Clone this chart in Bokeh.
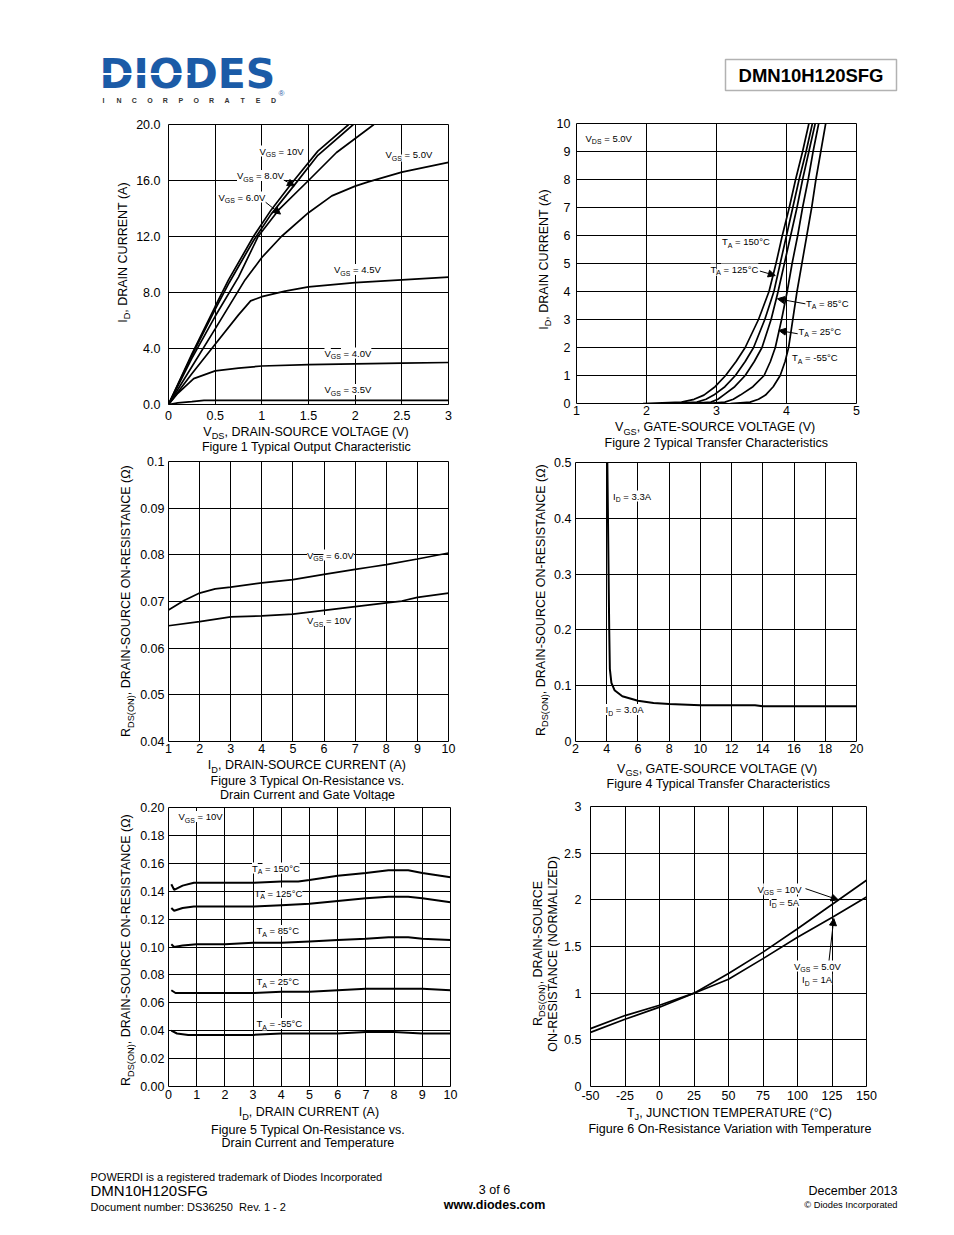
import numpy as np
from bokeh.plotting import figure
from bokeh.layouts import column, row
from bokeh.models import (Range1d, FixedTicker, CustomJSTickFormatter, Label,
                          Arrow, NormalHead, BoxAnnotation)
from bokeh.embed import file_html
from bokeh.resources import INLINE

FONT = "Liberation Sans"
BLUE = "#1b5ba7"

# ======================= DATA =======================
# Figure 1 - Typical Output Characteristic (VDS [V] -> ID [A])
f1_vgs10_vds = [0, 0.25, 0.5, 0.643, 0.91, 1.1, 1.32, 1.6, 1.93]
f1_vgs10_id = [0, 3.6, 7.0, 8.9, 12.0, 13.9, 15.8, 18.1, 20.0]
f1_vgs8_vds = [0, 0.25, 0.5, 0.65, 0.91, 1.1, 1.34, 1.6, 1.98]
f1_vgs8_id = [0, 3.5, 6.8, 8.7, 11.7, 13.6, 15.6, 17.8, 20.0]
f1_vgs6_vds = [0, 0.25, 0.5, 0.75, 0.96, 1.18, 1.5, 1.8, 2.14, 2.2]
f1_vgs6_id = [0, 3.3, 6.3, 9.1, 12.0, 13.9, 16.0, 18.0, 19.7, 20.0]
f1_vgs5_vds = [0, 0.25, 0.5, 0.82, 0.9, 1.0, 1.21, 1.5, 1.75, 2.0, 2.14, 2.5, 3.0]
f1_vgs5_id = [0, 2.7, 5.4, 8.9, 9.6, 10.5, 12.0, 13.7, 14.9, 15.6, 15.9, 16.6, 17.3]
f1_vgs45_vds = [0, 0.25, 0.5, 0.75, 0.88, 1.0, 1.25, 1.5, 2.0, 2.5, 3.0]
f1_vgs45_id = [0, 2.2, 4.3, 6.4, 7.4, 7.7, 8.1, 8.4, 8.7, 8.9, 9.1]
f1_vgs4_vds = [0, 0.1, 0.27, 0.5, 0.75, 1.0, 1.5, 2.0, 2.5, 3.0]
f1_vgs4_id = [0, 0.8, 1.85, 2.4, 2.6, 2.75, 2.85, 2.9, 2.95, 3.0]
f1_vgs35_vds = [0, 0.1, 0.25, 0.38, 1.0, 2.0, 3.0]
f1_vgs35_id = [0, 0.12, 0.2, 0.3, 0.3, 0.3, 0.3]
f1_x_ticks = [0, 0.5, 1, 1.5, 2, 2.5, 3]
f1_y_ticks = [0, 4, 8, 12, 16, 20]
f1_arrow8 = [1.23, 16.05, 1.35, 15.62]
f1_arrow6 = [1.04, 14.45, 1.20, 13.60]

# Figure 2 - Typical Transfer Characteristics (VGS [V] -> ID [A])
f2_id = [0, 0.05, 0.15, 0.3, 0.6, 1, 1.5, 2, 3, 4, 5, 6, 7, 8, 9, 10]
f2_t150_vgs = [1.95, 2.5, 2.68, 2.82, 2.98, 3.13, 3.28, 3.41, 3.60, 3.75, 3.85, 3.94, 4.04, 4.13, 4.23, 4.32]
f2_t125_vgs = [2.3, 2.72, 2.85, 2.96, 3.12, 3.27, 3.41, 3.53, 3.69, 3.82, 3.91, 4.00, 4.09, 4.18, 4.28, 4.37]
f2_t85_vgs = [2.6, 2.92, 3.02, 3.10, 3.26, 3.41, 3.54, 3.65, 3.78, 3.88, 3.97, 4.06, 4.15, 4.23, 4.32, 4.41]
f2_t25_vgs = [2.85, 3.12, 3.24, 3.34, 3.52, 3.68, 3.77, 3.84, 3.93, 4.01, 4.08, 4.16, 4.23, 4.31, 4.38, 4.46]
f2_tm55_vgs = [3.2, 3.48, 3.60, 3.70, 3.81, 3.91, 3.98, 4.03, 4.09, 4.15, 4.22, 4.29, 4.36, 4.42, 4.49, 4.56]
f2_x_ticks = [1, 2, 3, 4, 5]
f2_y_ticks = [0, 1, 2, 3, 4, 5, 6, 7, 8, 9, 10]
f2_arrow125 = [3.62, 4.73, 3.84, 4.57]
f2_arrow85 = [4.27, 3.56, 3.87, 3.74]
f2_arrow25 = [4.16, 2.49, 3.89, 2.61]

# Figure 3 - On-Resistance vs Drain Current and Gate Voltage
f3_vgs6_id = [1, 1.5, 2, 2.5, 3, 4, 5, 6, 7, 7.5, 8, 9, 10]
f3_vgs6_r = [0.0682, 0.0702, 0.0718, 0.0727, 0.0731, 0.0740, 0.0747, 0.0758, 0.0769, 0.0774, 0.0779, 0.0791, 0.0804]
f3_vgs10_id = [1, 2, 3, 4, 5, 6, 7, 8, 8.5, 9, 10]
f3_vgs10_r = [0.0648, 0.0657, 0.0667, 0.0669, 0.0673, 0.0681, 0.0689, 0.0697, 0.0701, 0.0709, 0.0718]
f3_x_ticks = [1, 2, 3, 4, 5, 6, 7, 8, 9, 10]
f3_y_ticks = [0.04, 0.05, 0.06, 0.07, 0.08, 0.09, 0.1]

# Figure 4 - On-Resistance vs Gate-Source Voltage
f4_vgs = [4.04, 4.08, 4.12, 4.16, 4.2, 4.3, 4.5, 5.0, 6.0, 7.0, 8.0, 10.0, 12.0, 13.5, 14.0, 16.0, 18.0, 20.0]
f4_r = [0.5, 0.4, 0.3, 0.2, 0.13, 0.105, 0.092, 0.081, 0.073, 0.069, 0.067, 0.065, 0.065, 0.065, 0.063, 0.063, 0.063, 0.063]
f4_x_ticks = [2, 4, 6, 8, 10, 12, 14, 16, 18, 20]
f4_y_ticks = [0, 0.1, 0.2, 0.3, 0.4, 0.5]

# Figure 5 - On-Resistance vs Drain Current and Temperature
f5_t150_id = [0.1, 0.2, 0.5, 0.9, 1, 2, 3, 4, 4.6, 5, 6, 7, 7.8, 8.5, 9, 10]
f5_t150_r = [0.145, 0.141, 0.144, 0.146, 0.146, 0.146, 0.146, 0.147, 0.147, 0.148, 0.151, 0.153, 0.155, 0.155, 0.153, 0.150]
f5_t125_id = [0.1, 0.2, 0.5, 0.9, 2, 3, 4, 5, 6, 7, 7.8, 8.5, 9, 10]
f5_t125_r = [0.128, 0.126, 0.128, 0.129, 0.129, 0.129, 0.130, 0.131, 0.133, 0.135, 0.136, 0.136, 0.135, 0.132]
f5_t85_id = [0.1, 0.2, 0.5, 1, 2, 3, 4, 5, 6, 7, 7.8, 8.5, 9, 10]
f5_t85_r = [0.102, 0.100, 0.101, 0.102, 0.102, 0.103, 0.103, 0.104, 0.105, 0.106, 0.107, 0.107, 0.106, 0.105]
f5_t25_id = [0.1, 0.25, 1, 2, 3, 4, 5, 6, 7, 8, 8.5, 9, 10]
f5_t25_r = [0.069, 0.067, 0.067, 0.067, 0.067, 0.068, 0.068, 0.069, 0.070, 0.070, 0.070, 0.070, 0.069]
f5_tm55_id = [0.1, 0.3, 0.7, 1, 2, 3, 4, 5, 6, 7, 8, 9, 10]
f5_tm55_r = [0.040, 0.038, 0.037, 0.037, 0.037, 0.037, 0.038, 0.038, 0.038, 0.039, 0.039, 0.038, 0.038]
f5_x_ticks = [0, 1, 2, 3, 4, 5, 6, 7, 8, 9, 10]
f5_y_ticks = [0, 0.02, 0.04, 0.06, 0.08, 0.10, 0.12, 0.14, 0.16, 0.18, 0.20]

# Figure 6 - On-Resistance Variation with Temperature
f6_tj = [-50, -25, 0, 25, 50, 75, 100, 125, 150]
f6_vgs10_r = [0.58, 0.72, 0.85, 1.0, 1.21, 1.44, 1.69, 1.95, 2.21]
f6_vgs5_r = [0.62, 0.76, 0.87, 1.0, 1.15, 1.37, 1.60, 1.81, 2.03]
f6_x_ticks = [-50, -25, 0, 25, 50, 75, 100, 125, 150]
f6_y_ticks = [0, 0.5, 1, 1.5, 2, 2.5, 3]
f6_arrow10 = [105.8, 2.12, 129.5, 2.0]
f6_arrow5 = [122.7, 1.33, 126.3, 1.80]

# ======================= HELPERS =======================
NB = "\u00a0"
AW = {' ': 278, NB: 278, '(': 333, ')': 333, ',': 278, '-': 333, '.': 278, ':': 278,
      '=': 584, '°': 400, 'Ω': 768, '©': 737, '/': 278,
      'A': 667, 'B': 667, 'C': 722, 'D': 722, 'E': 667, 'F': 611, 'G': 778, 'H': 722,
      'I': 278, 'J': 500, 'K': 667, 'L': 556, 'M': 833, 'N': 722, 'O': 778, 'P': 667,
      'Q': 778, 'R': 722, 'S': 667, 'T': 611, 'U': 722, 'V': 667, 'W': 944, 'X': 667,
      'Y': 667, 'Z': 611,
      'a': 556, 'b': 556, 'c': 500, 'd': 556, 'e': 556, 'f': 278, 'g': 556, 'h': 556,
      'i': 222, 'j': 222, 'k': 500, 'l': 222, 'm': 833, 'n': 556, 'o': 556, 'p': 556,
      'q': 556, 'r': 333, 's': 500, 't': 278, 'u': 556, 'v': 500, 'w': 722, 'x': 500,
      'y': 500, 'z': 500}


def tw(text, size):
    return sum(AW.get(c, 556) for c in text) / 1000.0 * size


def keep_spaces(text):
    text = text.replace("  ", " " + NB)
    if text.startswith(" "):
        text = NB + text[1:]
    if text.endswith(" "):
        text = text[:-1] + NB
    return text


class Fr:
    """Maps page pixel coordinates to a figure's data coordinates."""
    def __init__(self, L, T, R, B, xr, yr):
        self.L, self.T, self.R, self.B = L, T, R, B
        self.x0, self.x1 = xr
        self.y0, self.y1 = yr

    def x(self, px):
        return self.x0 + (px - self.L) / (self.R - self.L) * (self.x1 - self.x0)

    def y(self, py):
        return self.y0 + (self.B - py) / (self.B - self.T) * (self.y1 - self.y0)


def no_align(p):
    try:
        p.frame_align = False
    except Exception:
        pass


def txt(p, fr, px, py, text, size, color="black", bold=False, align="left",
        baseline="middle", angle=0.0, bg=None, font=FONT):
    lab = Label(x=fr.x(px), y=fr.y(py), text=keep_spaces(text), text_font=font,
                text_font_size=f"{size}px", text_color=color,
                text_font_style="bold" if bold else "normal",
                text_align=align, text_baseline=baseline, angle=angle)
    if bg is not None:
        lab.background_fill_color = bg
        lab.background_fill_alpha = 1.0
    p.add_layout(lab)


def rich(p, fr, px, cy, parts, size, align="left", angle=0.0, bg=None,
         sub_ratio=0.74, drop=0.28):
    sub = round(size * sub_ratio, 1)
    ws = [tw(t, sub if s else size) for t, s in parts]
    tot = sum(ws)
    pos = {"left": 0.0, "center": -tot / 2.0, "right": -tot}[align]
    for (t, s), w in zip(parts, ws):
        fs = sub if s else size
        off = (drop * size + 0.36 * (size - sub)) if s else 0.0
        if angle == 0.0:
            X, Y = px + pos, cy + off
        else:
            X, Y = px + off, cy - pos
        txt(p, fr, X, Y, t, fs, angle=angle, bg=bg)
        pos += w


def ann(p, fr, left, cy, parts, size=9.5):
    rich(p, fr, left, cy, parts, size, align="left", bg="white")


def arrow(p, a):
    p.add_layout(Arrow(end=NormalHead(size=7, fill_color="black", line_color="black",
                                      line_width=1),
                       x_start=a[0], y_start=a[1], x_end=a[2], y_end=a[3],
                       line_color="black", line_width=1))


def blank(fr):
    w = int(round(fr.R - fr.L))
    h = int(round(fr.B - fr.T))
    p = figure(width=w, height=h, x_range=Range1d(fr.x0, fr.x1),
               y_range=Range1d(fr.y0, fr.y1), output_backend="svg",
               toolbar_location=None, tools="", title=None,
               x_axis_type=None, y_axis_type=None,
               min_border_left=0, min_border_right=0, min_border_top=0, min_border_bottom=0)
    p.outline_line_color = None
    p.grid.visible = False
    no_align(p)
    return p


def strip(L, T, R, B):
    fr = Fr(L, T, R, B, (0, R - L), (0, B - T))
    return fr, blank(fr)


def chart(fr, box, xt, yt, xfmt, yfmt, xso, yso):
    ox, oy, w, h = box
    p = figure(width=w, height=h, x_range=Range1d(fr.x0, fr.x1),
               y_range=Range1d(fr.y0, fr.y1), output_backend="svg",
               toolbar_location=None, tools="", title=None,
               min_border_left=int(fr.L - ox), min_border_right=int(ox + w - fr.R),
               min_border_top=int(fr.T - oy), min_border_bottom=int(oy + h - fr.B))
    no_align(p)
    p.outline_line_color = "black"
    p.outline_line_width = 1
    p.outline_line_alpha = 1.0
    xtk = FixedTicker(ticks=xt)
    ytk = FixedTicker(ticks=yt)
    p.xaxis.ticker = xtk
    p.yaxis.ticker = ytk
    p.xgrid.ticker = xtk
    p.ygrid.ticker = ytk
    p.xaxis.formatter = CustomJSTickFormatter(code=xfmt)
    p.yaxis.formatter = CustomJSTickFormatter(code=yfmt)
    for ax in p.axis:
        ax.axis_line_color = None
        ax.major_tick_line_color = None
        ax.minor_tick_line_color = None
        ax.major_tick_out = 0
        ax.major_tick_in = 0
        ax.major_label_text_font = FONT
        ax.major_label_text_font_size = "12.5px"
        ax.major_label_text_color = "black"
    p.xaxis.major_label_standoff = xso
    p.yaxis.major_label_standoff = yso
    for g in p.grid:
        g.grid_line_color = "black"
        g.grid_line_width = 1
        g.grid_line_alpha = 1.0
    return p


def cell(ox, oy, w, h, frame, xr, yr, a, hc, xt, yt, xfmt, yfmt, xso, yso):
    """A chart cell: y-label strip on the left, chart, x-label strip below."""
    L, T, R, B = frame
    fr = Fr(L, T, R, B, xr, yr)
    p = chart(fr, (ox + a, oy, w - a, hc), xt, yt, xfmt, yfmt, xso, yso)
    yfr, ys = strip(ox, oy, ox + a, oy + h)
    xfr, xs = strip(ox + a, oy + hc, ox + w, oy + h)
    lay = row(ys, column(p, row(xs)))
    return fr, p, yfr, ys, xfr, xs, lay


STR = "return String(tick);"
LW = 1.7
AX = 12.5  # axis label size

# ======================= HEADER =======================
hfr, hdr = strip(0, 0, 954, 115)
txt(hdr, hfr, 99, 73, "DIODES", 41, color=BLUE, bold=True, font="DejaVu Sans")
hdr.add_layout(BoxAnnotation(left=hfr.x(100), right=hfr.x(190), top=hfr.y(72.5),
                             bottom=hfr.y(74.5), fill_color="white", fill_alpha=1,
                             line_color=None))
for i, ch in enumerate("INCORPORATED"):
    txt(hdr, hfr, 103 + i * 15.45, 99.5, ch, 7, color="#333333", bold=True, align="center")
txt(hdr, hfr, 281, 92.5, "®", 8, color=BLUE, align="center")
hdr.add_layout(BoxAnnotation(left=hfr.x(725), right=hfr.x(896), top=hfr.y(59),
                             bottom=hfr.y(90), fill_alpha=0, line_color="black",
                             line_width=1.5))
txt(hdr, hfr, 810.5, 74.5, "DMN10H120SFG", 18.5, bold=True, align="center")

# ======================= FIGURE 1 =======================
fr1, p1, y1f, y1, x1f, x1, c1 = cell(0, 115, 477, 340, (168, 124, 448, 404), (0, 3), (0, 20),
                                     132, 311, f1_x_ticks, f1_y_ticks, STR,
                                     "return tick.toFixed(1);", 6, 8)
for xs_, ys_ in [(f1_vgs10_vds, f1_vgs10_id), (f1_vgs8_vds, f1_vgs8_id),
                 (f1_vgs6_vds, f1_vgs6_id), (f1_vgs5_vds, f1_vgs5_id),
                 (f1_vgs45_vds, f1_vgs45_id), (f1_vgs4_vds, f1_vgs4_id),
                 (f1_vgs35_vds, f1_vgs35_id)]:
    p1.line(xs_, ys_, line_color="black", line_width=LW)
arrow(p1, f1_arrow8)
arrow(p1, f1_arrow6)
ann(p1, fr1, 259, 150.5, [("V", 0), ("GS", 1), (" = 10V", 0)])
ann(p1, fr1, 236.5, 175, [("V", 0), ("GS", 1), (" = 8.0V", 0)])
ann(p1, fr1, 218, 196.5, [("V", 0), ("GS", 1), (" = 6.0V", 0)])
ann(p1, fr1, 385, 154, [("V", 0), ("GS", 1), (" = 5.0V", 0)])
ann(p1, fr1, 333.5, 269, [("V", 0), ("GS", 1), (" = 4.5V", 0)])
ann(p1, fr1, 324, 352.5, [("V", 0), ("GS", 1), (" = 4.0V", 0)])
ann(p1, fr1, 324, 389, [("V", 0), ("GS", 1), (" = 3.5V", 0)])
rich(x1, x1f, 306.5, 431, [("V", 0), ("DS", 1), (", DRAIN-SOURCE VOLTAGE (V)", 0)], AX, align="center")
txt(x1, x1f, 306, 446.5, "Figure 1 Typical Output Characteristic", AX, align="center")
rich(y1, y1f, 122, 252, [("I", 0), ("D", 1), (", DRAIN CURRENT (A)", 0)], AX, align="center", angle=np.pi / 2)

# ======================= FIGURE 2 =======================
fr2, p2, y2f, y2, x2f, x2, c2 = cell(477, 115, 477, 340, (576, 123, 856, 403), (1, 5), (0, 10),
                                     76, 306, f2_x_ticks, f2_y_ticks, STR, STR, 2, 6)
for xs_ in [f2_t150_vgs, f2_t125_vgs, f2_t85_vgs, f2_t25_vgs, f2_tm55_vgs]:
    p2.line(xs_, f2_id, line_color="black", line_width=LW)
arrow(p2, f2_arrow125)
arrow(p2, f2_arrow85)
arrow(p2, f2_arrow25)
ann(p2, fr2, 585, 137.5, [("V", 0), ("DS", 1), (" = 5.0V", 0)])
ann(p2, fr2, 721.5, 241, [("T", 0), ("A", 1), (" = 150°C", 0)])
ann(p2, fr2, 710, 268.5, [("T", 0), ("A", 1), (" = 125°C", 0)])
ann(p2, fr2, 805.5, 302.5, [("T", 0), ("A", 1), (" = 85°C", 0)])
ann(p2, fr2, 798, 330.5, [("T", 0), ("A", 1), (" = 25°C", 0)])
ann(p2, fr2, 791.5, 357, [("T", 0), ("A", 1), (" = -55°C", 0)])
rich(x2, x2f, 716, 426.5, [("V", 0), ("GS", 1), (", GATE-SOURCE VOLTAGE (V)", 0)], AX, align="center")
txt(x2, x2f, 716, 442.5, "Figure 2 Typical Transfer Characteristics", AX, align="center")
rich(y2, y2f, 543, 259, [("I", 0), ("D", 1), (", DRAIN CURRENT (A)", 0)], AX, align="center", angle=np.pi / 2)

# ======================= FIGURE 3 =======================
fr3, p3, y3f, y3, x3f, x3, c3 = cell(0, 455, 477, 346, (168, 461, 448, 741), (1, 10), (0.04, 0.1),
                                     136, 304, f3_x_ticks, f3_y_ticks, STR,
                                     "return tick > 0.0995 ? '0.1' : tick.toFixed(2);", 2, 4)
p3.line(f3_vgs6_id, f3_vgs6_r, line_color="black", line_width=LW)
p3.line(f3_vgs10_id, f3_vgs10_r, line_color="black", line_width=LW)
ann(p3, fr3, 306.5, 554.5, [("V", 0), ("GS", 1), (" = 6.0V", 0)])
ann(p3, fr3, 306.5, 620, [("V", 0), ("GS", 1), (" = 10V", 0)])
rich(x3, x3f, 306.5, 764.5, [("I", 0), ("D", 1), (", DRAIN-SOURCE CURRENT (A)", 0)], AX, align="center")
txt(x3, x3f, 307, 780, "Figure 3 Typical On-Resistance vs.", AX, align="center")
txt(x3, x3f, 307, 794, "Drain Current and Gate Voltage", AX, align="center")
rich(y3, y3f, 125.5, 600, [("R", 0), ("DS(ON)", 1), (", DRAIN-SOURCE ON-RESISTANCE (Ω)", 0)], AX,
     align="center", angle=np.pi / 2)

# ======================= FIGURE 4 =======================
fr4, p4, y4f, y4, x4f, x4, c4 = cell(477, 455, 477, 346, (575, 462, 856, 741), (2, 20), (0, 0.5),
                                     73, 304, f4_x_ticks, f4_y_ticks, STR, STR, 2, 4)
p4.line(f4_vgs, f4_r, line_color="black", line_width=2)
ann(p4, fr4, 612.5, 495.5, [("I", 0), ("D", 1), (" = 3.3A", 0)])
ann(p4, fr4, 605, 709, [("I", 0), ("D", 1), (" = 3.0A", 0)])
rich(x4, x4f, 718, 768, [("V", 0), ("GS", 1), (", GATE-SOURCE VOLTAGE (V)", 0)], AX, align="center")
txt(x4, x4f, 718, 783.5, "Figure 4 Typical Transfer Characteristics", AX, align="center")
rich(y4, y4f, 540, 599, [("R", 0), ("DS(ON)", 1), (", DRAIN-SOURCE ON-RESISTANCE (Ω)", 0)], AX,
     align="center", angle=np.pi / 2)

# ======================= FIGURE 5 =======================
fr5, p5, y5f, y5, x5f, x5, c5 = cell(0, 801, 477, 359, (168, 807, 450, 1086), (0, 10), (0, 0.2),
                                     136, 304, f5_x_ticks, f5_y_ticks, STR,
                                     "return tick.toFixed(2);", 3, 4)
for xs_, ys_ in [(f5_t150_id, f5_t150_r), (f5_t125_id, f5_t125_r), (f5_t85_id, f5_t85_r),
                 (f5_t25_id, f5_t25_r), (f5_tm55_id, f5_tm55_r)]:
    p5.line(xs_, ys_, line_color="black", line_width=2)
ann(p5, fr5, 178, 816, [("V", 0), ("GS", 1), (" = 10V", 0)])
ann(p5, fr5, 251.5, 867.5, [("T", 0), ("A", 1), (" = 150°C", 0)])
ann(p5, fr5, 254, 892.5, [("T", 0), ("A", 1), (" = 125°C", 0)])
ann(p5, fr5, 256, 930, [("T", 0), ("A", 1), (" = 85°C", 0)])
ann(p5, fr5, 256, 981, [("T", 0), ("A", 1), (" = 25°C", 0)])
ann(p5, fr5, 256, 1023, [("T", 0), ("A", 1), (" = -55°C", 0)])
rich(x5, x5f, 308.5, 1111.5, [("I", 0), ("D", 1), (", DRAIN CURRENT (A)", 0)], AX, align="center")
txt(x5, x5f, 307.5, 1129, "Figure 5 Typical On-Resistance vs.", AX, align="center")
txt(x5, x5f, 307.5, 1142.5, "Drain Current and Temperature", AX, align="center")
rich(y5, y5f, 125.5, 949, [("R", 0), ("DS(ON)", 1), (", DRAIN-SOURCE ON-RESISTANCE (Ω)", 0)], AX,
     align="center", angle=np.pi / 2)

# ======================= FIGURE 6 =======================
fr6, p6, y6f, y6, x6f, x6, c6 = cell(477, 801, 477, 359, (590, 806, 866, 1086), (-50, 150), (0, 3),
                                     83, 305, f6_x_ticks, f6_y_ticks, STR, STR, 4, 9)
p6.line(f6_tj, f6_vgs10_r, line_color="black", line_width=LW)
p6.line(f6_tj, f6_vgs5_r, line_color="black", line_width=LW)
arrow(p6, f6_arrow10)
arrow(p6, f6_arrow5)
ann(p6, fr6, 757, 888.5, [("V", 0), ("GS", 1), (" = 10V", 0)])
ann(p6, fr6, 768.5, 901.5, [("I", 0), ("D", 1), (" = 5A", 0)])
ann(p6, fr6, 793.5, 965.5, [("V", 0), ("GS", 1), (" = 5.0V", 0)])
ann(p6, fr6, 801.5, 979, [("I", 0), ("D", 1), (" = 1A", 0)])
rich(x6, x6f, 729.5, 1112, [("T", 0), ("J", 1), (", JUNCTION TEMPERATURE (°C)", 0)], AX, align="center")
txt(x6, x6f, 729.5, 1128.5, "Figure 6 On-Resistance Variation with Temperature", AX, align="center")
rich(y6, y6f, 537, 953, [("R", 0), ("DS(ON)", 1), (", DRAIN-SOURCE", 0)], AX, align="center", angle=np.pi / 2)
rich(y6, y6f, 552, 953, [("ON-RESISTANCE (NORMALIZED)", 0)], AX, align="center", angle=np.pi / 2)

# ======================= FOOTER =======================
ffr, ftr = strip(0, 1160, 954, 1235)
txt(ftr, ffr, 90, 1176, "POWERDI is a registered trademark of Diodes Incorporated", 11)
txt(ftr, ffr, 90, 1190, "DMN10H120SFG", 15)
txt(ftr, ffr, 90, 1206, "Document number: DS36250  Rev. 1 - 2", 11)
txt(ftr, ffr, 494, 1189, "3 of 6", 12.5, align="center")
txt(ftr, ffr, 494, 1204, "www.diodes.com", 12.5, bold=True, align="center")
txt(ftr, ffr, 897, 1190, "December 2013", 12.5, align="right")
txt(ftr, ffr, 897, 1204, "© Diodes Incorporated", 9.3, align="right")

page = column(hdr, row(c1, c2), row(c3, c4), row(c5, c6), ftr)
open("out.html", "w").write(file_html(page, INLINE))
